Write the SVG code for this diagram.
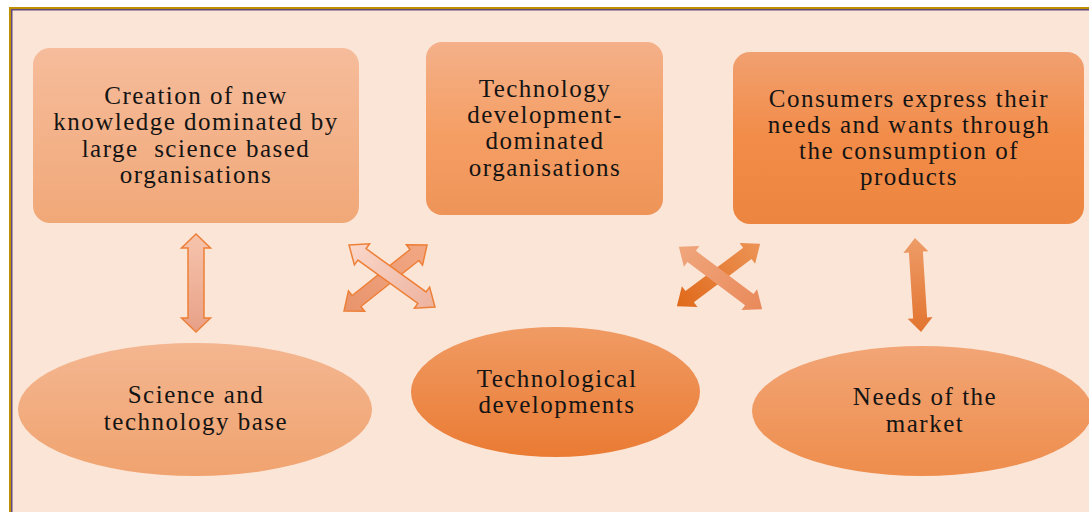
<svg xmlns="http://www.w3.org/2000/svg" width="1089" height="512" viewBox="0 0 1089 512">
  <defs>
    <linearGradient id="gBox1" x1="0" y1="0" x2="0" y2="1">
      <stop offset="0" stop-color="#F6BC9B"/>
      <stop offset="1" stop-color="#F1A878"/>
    </linearGradient>
    <linearGradient id="gBox2" x1="0" y1="0" x2="0" y2="1">
      <stop offset="0" stop-color="#F4B089"/>
      <stop offset="0.55" stop-color="#F59E63"/>
      <stop offset="1" stop-color="#EE9459"/>
    </linearGradient>
    <linearGradient id="gBox3" x1="0" y1="0" x2="0" y2="1">
      <stop offset="0" stop-color="#F1A070"/>
      <stop offset="0.5" stop-color="#F28C48"/>
      <stop offset="1" stop-color="#EB853F"/>
    </linearGradient>
    <linearGradient id="gEll1" x1="0" y1="0" x2="0" y2="1">
      <stop offset="0" stop-color="#F4B690"/>
      <stop offset="1" stop-color="#F0A36F"/>
    </linearGradient>
    <linearGradient id="gEll2" x1="0" y1="0" x2="0" y2="1">
      <stop offset="0" stop-color="#F09B64"/>
      <stop offset="1" stop-color="#EA7B33"/>
    </linearGradient>
    <linearGradient id="gEll3" x1="0" y1="0" x2="0" y2="1">
      <stop offset="0" stop-color="#F2A576"/>
      <stop offset="1" stop-color="#EE8D4C"/>
    </linearGradient>
    <linearGradient id="gArrPale" x1="0" y1="0" x2="1" y2="0">
      <stop offset="0" stop-color="#F7C4AC"/>
      <stop offset="1" stop-color="#E8A088"/>
    </linearGradient>
    <linearGradient id="gArrPink" x1="0" y1="0" x2="1" y2="0">
      <stop offset="0" stop-color="#FAD7CA"/>
      <stop offset="1" stop-color="#EDB29E"/>
    </linearGradient>
    <linearGradient id="gArrSalmon" x1="0" y1="0" x2="1" y2="0">
      <stop offset="0" stop-color="#F2A884"/>
      <stop offset="1" stop-color="#E8946C"/>
    </linearGradient>
    <linearGradient id="gArrSoft" x1="0" y1="0" x2="1" y2="0">
      <stop offset="0" stop-color="#F0A67C"/>
      <stop offset="1" stop-color="#E9895A"/>
    </linearGradient>
    <linearGradient id="gArrDeep" x1="0" y1="0" x2="1" y2="0">
      <stop offset="0" stop-color="#EC9456"/>
      <stop offset="1" stop-color="#E0691A"/>
    </linearGradient>
    <linearGradient id="gArrVert" x1="0" y1="0" x2="1" y2="0">
      <stop offset="0" stop-color="#EE9C68"/>
      <stop offset="1" stop-color="#E2742F"/>
    </linearGradient>
  </defs>
  <style>
    .lbl { font-family: "Liberation Serif", "Times New Roman", serif; font-size: 25px; fill: #141414; text-anchor: middle; letter-spacing: 1.5px; white-space: pre; }
    .edge { stroke: #EE7F36; stroke-width: 1.5; stroke-linejoin: miter; }
  </style>

  <!-- page frame -->
  <rect x="0" y="0" width="1089" height="512" fill="#FFFFFF"/>
  <rect x="9" y="7" width="1090" height="515" fill="#BF9000"/>
  <rect x="11" y="9" width="1090" height="515" fill="#604A7B"/>
  <rect x="12.5" y="10.5" width="1090" height="515" fill="#FBE5D7"/>

  <!-- connectors: two-headed block arrows -->
  <g id="connectors">
    <path class="edge" fill="url(#gArrPale)" transform="translate(196 283) rotate(90)"
          d="M -49 0 L -35 -14.5 L -35 -8 L 35 -8 L 35 -14.5 L 49 0 L 35 14.5 L 35 8 L -35 8 L -35 14.5 Z"/>

    <path class="edge" fill="url(#gArrSalmon)" transform="translate(385.5 278) rotate(141.5)"
          d="M -53 0 L -37 -13 L -37 -7 L 37 -7 L 37 -13 L 53 0 L 37 13 L 37 7 L -37 7 L -37 13 Z"/>
    <path class="edge" fill="url(#gArrPink)" transform="translate(392 276) rotate(35.8)"
          d="M -53 0 L -37 -13 L -37 -7 L 37 -7 L 37 -13 L 53 0 L 37 13 L 37 7 L -37 7 L -37 13 Z"/>

    <path fill="url(#gArrDeep)" transform="translate(718.5 275) rotate(143.2)"
          d="M -52 0 L -36 -13 L -36 -7 L 36 -7 L 36 -13 L 52 0 L 36 13 L 36 7 L -36 7 L -36 13 Z"/>
    <path fill="url(#gArrSoft)" transform="translate(720.5 278) rotate(36.8)"
          d="M -52 0 L -36 -13 L -36 -7 L 36 -7 L 36 -13 L 52 0 L 36 13 L 36 7 L -36 7 L -36 13 Z"/>

    <path fill="url(#gArrVert)" transform="translate(918 285) rotate(86.3)"
          d="M -47 0 L -33 -12.5 L -33 -7 L 33 -7 L 33 -12.5 L 47 0 L 33 12.5 L 33 7 L -33 7 L -33 12.5 Z"/>
  </g>

  <!-- upper row: organisation boxes -->
  <g id="node-knowledge">
    <rect x="33" y="48" width="326" height="175" rx="17" fill="url(#gBox1)"/>
    <text class="lbl" x="196" y="104">Creation of new</text>
    <text class="lbl" x="196" y="130">knowledge dominated by</text>
    <text class="lbl" x="196" y="156.5" xml:space="preserve">large  science based</text>
    <text class="lbl" x="196" y="183">organisations</text>
  </g>

  <g id="node-techorg">
    <rect x="426" y="42" width="237" height="173" rx="16" fill="url(#gBox2)"/>
    <text class="lbl" x="545" y="97">Technology</text>
    <text class="lbl" x="545" y="123">development-</text>
    <text class="lbl" x="545" y="149">dominated</text>
    <text class="lbl" x="545" y="175.5">organisations</text>
  </g>

  <g id="node-consumers">
    <rect x="733" y="52" width="351" height="172" rx="17" fill="url(#gBox3)"/>
    <text class="lbl" x="909" y="107">Consumers express their</text>
    <text class="lbl" x="909" y="133">needs and wants through</text>
    <text class="lbl" x="909" y="159">the consumption of</text>
    <text class="lbl" x="909" y="185">products</text>
  </g>

  <!-- lower row: ellipses -->
  <g id="node-science">
    <ellipse cx="195" cy="409.5" rx="177" ry="66.5" fill="url(#gEll1)"/>
    <text class="lbl" x="196" y="403">Science and</text>
    <text class="lbl" x="196" y="430">technology base</text>
  </g>

  <g id="node-techdev">
    <ellipse cx="555.5" cy="392" rx="144.5" ry="65" fill="url(#gEll2)"/>
    <text class="lbl" x="557" y="387">Technological</text>
    <text class="lbl" x="557" y="413">developments</text>
  </g>

  <g id="node-market">
    <ellipse cx="922" cy="411" rx="170" ry="65" fill="url(#gEll3)"/>
    <text class="lbl" x="925" y="405">Needs of the</text>
    <text class="lbl" x="925" y="432">market</text>
  </g>
</svg>
